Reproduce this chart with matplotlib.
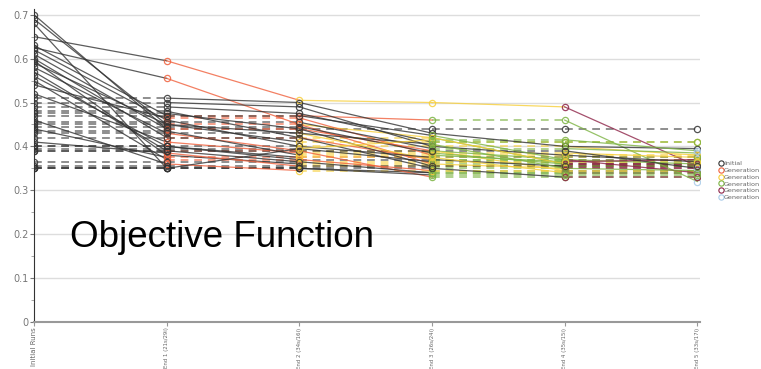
import numpy as np
import matplotlib
matplotlib.use("Agg")
import matplotlib.pyplot as plt
from matplotlib.lines import Line2D

stages = ["Initial Runs", "End 1 (21s/29i)", "End 2 (34s/16i)", "End 3 (26s/24i)",
          "End 4 (35s/15i)", "End 5 (33s/17i)"]
legend_labels = ["Initial", "Generation", "Generation", "Generation", "Generation", "Generation"]
gen_colors = ["#333333", "#f0603c", "#f7cf3a", "#7cb342", "#8e2448", "#a9cbe8"]

# objective value of each run at each stage
v0 = [0.70, 0.69, 0.68, 0.65, 0.63, 0.625, 0.62, 0.61, 0.60, 0.595, 0.59, 0.58, 0.57, 0.56,
      0.55, 0.54, 0.52, 0.51, 0.50, 0.49, 0.48, 0.475, 0.47, 0.46, 0.455, 0.45, 0.445, 0.44,
      0.435, 0.43, 0.42, 0.41, 0.40, 0.40, 0.395, 0.39, 0.39, 0.365, 0.355, 0.35, 0.35, 0.35]
v1 = [0.44, 0.45, 0.35, 0.595, 0.47, 0.555, 0.46, 0.44, 0.42, 0.38, 0.45, 0.43, 0.39, 0.40,
      0.37, 0.465, 0.41, 0.51, 0.50, 0.49, 0.48, 0.475, 0.47, 0.36, 0.455, 0.45, 0.445, 0.375,
      0.435, 0.43, 0.42, 0.385, 0.40, 0.40, 0.395, 0.39, 0.39, 0.365, 0.355, 0.35, 0.35, 0.35]
v2 = [0.44, 0.41, 0.35, 0.505, 0.47, 0.45, 0.40, 0.44, 0.42, 0.36, 0.45, 0.39, 0.39, 0.37,
      0.37, 0.465, 0.385, 0.50, 0.49, 0.475, 0.42, 0.44, 0.47, 0.345, 0.455, 0.43, 0.445, 0.375,
      0.38, 0.43, 0.42, 0.355, 0.40, 0.375, 0.395, 0.39, 0.365, 0.365, 0.355, 0.35, 0.35, 0.395]
v3 = [0.44, 0.41, 0.34, 0.50, 0.46, 0.42, 0.40, 0.39, 0.37, 0.36, 0.36, 0.39, 0.33, 0.37,
      0.345, 0.38, 0.385, 0.43, 0.40, 0.41, 0.42, 0.355, 0.425, 0.345, 0.395, 0.37, 0.385, 0.375,
      0.38, 0.405, 0.35, 0.355, 0.375, 0.375, 0.365, 0.39, 0.365, 0.34, 0.355, 0.35, 0.335, 0.415]
v4 = [0.44, 0.41, 0.34, 0.49, 0.46, 0.36, 0.40, 0.37, 0.37, 0.35, 0.36, 0.345, 0.33, 0.355,
      0.345, 0.365, 0.385, 0.40, 0.38, 0.41, 0.36, 0.355, 0.37, 0.345, 0.395, 0.37, 0.36, 0.375,
      0.38, 0.35, 0.35, 0.355, 0.375, 0.34, 0.365, 0.39, 0.365, 0.34, 0.355, 0.33, 0.335, 0.415]
v5 = [0.44, 0.41, 0.34, 0.355, 0.32, 0.36, 0.38, 0.37, 0.36, 0.35, 0.36, 0.345, 0.33, 0.355,
      0.345, 0.37, 0.375, 0.395, 0.365, 0.41, 0.36, 0.355, 0.34, 0.345, 0.385, 0.37, 0.36, 0.375,
      0.38, 0.35, 0.345, 0.355, 0.375, 0.34, 0.365, 0.35, 0.365, 0.34, 0.355, 0.33, 0.335, 0.39]

# generation that produced each value (0 = initial)
g0 = [0] * 42
g1 = [0, 0, 0, 1, 1, 1, 0, 1, 1, 0, 1, 1, 1, 0, 1, 1, 1, 0, 0, 0, 0,
      0, 0, 1, 0, 0, 0, 1, 0, 0, 0, 1, 0, 0, 0, 0, 0, 0, 0, 0, 0, 0]
g2 = [0, 2, 0, 2, 1, 2, 2, 1, 1, 2, 1, 2, 1, 0, 1, 1, 2, 0, 0, 0, 2,
      0, 0, 2, 0, 2, 0, 1, 2, 0, 0, 2, 0, 2, 0, 0, 2, 0, 0, 0, 0, 2]
g3 = [0, 2, 3, 2, 3, 3, 2, 3, 3, 2, 3, 2, 3, 0, 3, 3, 2, 0, 0, 3, 2,
      3, 3, 2, 3, 3, 3, 1, 2, 3, 3, 2, 3, 2, 3, 0, 2, 3, 0, 0, 3, 3]
g4 = [0, 2, 3, 4, 3, 4, 2, 4, 3, 4, 3, 4, 3, 4, 3, 4, 2, 0, 0, 3, 4,
      3, 4, 2, 3, 3, 4, 1, 2, 4, 3, 2, 3, 4, 3, 0, 2, 3, 0, 4, 3, 3]
g5 = [0, 2, 3, 5, 5, 4, 5, 4, 5, 4, 3, 4, 3, 4, 3, 5, 5, 0, 0, 3, 4,
      3, 5, 2, 5, 3, 4, 1, 2, 4, 5, 2, 3, 4, 3, 5, 2, 3, 0, 4, 3, 5]

values = np.array([v0, v1, v2, v3, v4, v5])
gens = np.array([g0, g1, g2, g3, g4, g5])
xs = np.arange(len(stages))

fig = plt.figure(figsize=(7.61, 3.69), dpi=100)
ax = fig.add_axes([34 / 761, 1 - 322 / 369, 666 / 761, 313 / 369])

for run in range(values.shape[1]):
    for s in range(len(stages) - 1):
        y0, y1 = values[s, run], values[s + 1, run]
        col = gen_colors[gens[s, run]]
        if y0 == y1:
            ax.plot(xs[s:s + 2], [y0, y1], color=col, lw=1.4, ls=(0, (4, 3)),
                    alpha=0.55 if gens[s, run] == 0 else 0.6, zorder=2)
        else:
            ax.plot(xs[s:s + 2], [y0, y1], color=col, lw=0.9, alpha=0.8, zorder=3)

for s in range(len(stages)):
    for run in range(values.shape[1]):
        ax.plot(xs[s], values[s, run], "o", ms=4.5, mfc="none", mew=0.9,
                mec=gen_colors[gens[s, run]], alpha=0.85, zorder=4)

ax.set_xlim(0, 5.02)
ax.set_ylim(0, 0.713)
ax.set_yticks(np.arange(0, 0.71, 0.1))
ax.set_yticklabels(["0", "0.1", "0.2", "0.3", "0.4", "0.5", "0.6", "0.7"])
ax.set_yticks(np.arange(0.05, 0.7, 0.1), minor=True)
ax.tick_params(axis="y", which="major", labelsize=7, colors="#777777", length=3, pad=1)
ax.tick_params(axis="y", which="minor", length=2, colors="#999999")
ax.yaxis.grid(True, color="#dddddd", lw=1)
ax.set_axisbelow(True)

ax.set_xticks(xs)
ax.set_xticklabels(stages, rotation=90, color="#666666")
ax.tick_params(axis="x", length=3, colors="#999999", pad=1)
for i, lab in enumerate(ax.get_xticklabels()):
    lab.set_fontsize(5.0 if i == 0 else 3.9)
    lab.set_color("#666666")

for side in ["top", "right"]:
    ax.spines[side].set_visible(False)
ax.spines["left"].set_color("#333333")
ax.spines["bottom"].set_color("#999999")
ax.spines["bottom"].set_linewidth(1.5)

handles = [Line2D([], [], ls="none", marker="o", ms=3.8, mfc="none", mew=0.8, mec=c)
           for c in gen_colors]
fig.legend(handles, legend_labels, loc="upper left", bbox_to_anchor=(719 / 761, 1 - 161 / 369),
           frameon=False, fontsize=4.6, handlelength=0.5, handletextpad=0.3,
           labelspacing=0.2, borderaxespad=0, borderpad=0, labelcolor="#666666")

fig.text(70 / 761, 1 - 237 / 369, "Objective Function", fontsize=26.5,
         family="Liberation Sans", va="center", ha="left")

fig.savefig("out.png", dpi=100)
